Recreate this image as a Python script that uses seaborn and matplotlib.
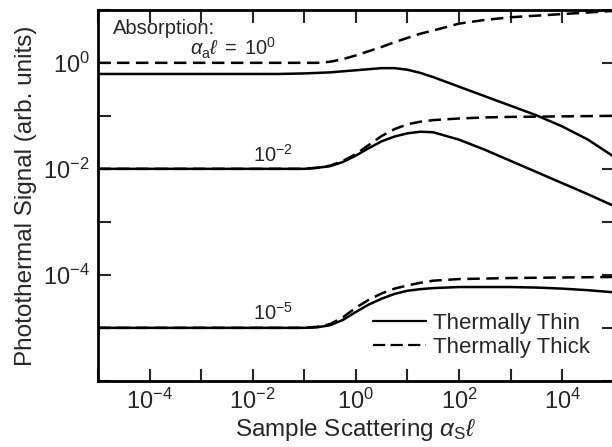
import matplotlib
matplotlib.use("Agg")
import matplotlib.pyplot as plt
import numpy as np
import pandas as pd
import seaborn as sns
from matplotlib.lines import Line2D

# ==========================================================
# Data  (log10 values)
# ==========================================================

scatter_exp = [-5, -1.5, -1, -0.75, -0.5, -0.25, 0, 0.25, 0.5, 0.75,
               1, 1.25, 1.5, 2, 2.5, 3, 3.5, 4, 4.5, 5]

thick_a0 = [0, 0, 0, 0.0, 0.02, 0.07, 0.14, 0.22, 0.30, 0.39,
            0.47, 0.55, 0.61, 0.74, 0.81, 0.86, 0.89, 0.92, 0.95, 0.98]
thin_a0 = [-0.21, -0.21, -0.20, -0.19, -0.18, -0.16, -0.14, -0.12, -0.10, -0.10,
           -0.13, -0.19, -0.27, -0.45, -0.63, -0.81, -0.99, -1.20, -1.45, -1.77]

thick_a2 = [-2, -2, -2, -1.98, -1.94, -1.85, -1.72, -1.55, -1.38, -1.25,
            -1.16, -1.11, -1.08, -1.05, -1.03, -1.02, -1.015, -1.01, -1.005, -1.0]
thin_a2 = [-2, -2, -2, -1.98, -1.95, -1.87, -1.75, -1.61, -1.48, -1.39,
           -1.33, -1.30, -1.31, -1.45, -1.64, -1.85, -2.06, -2.27, -2.48, -2.70]

thick_a5 = [-5, -5, -5, -4.98, -4.93, -4.80, -4.62, -4.47, -4.35, -4.26,
            -4.20, -4.15, -4.11, -4.08, -4.07, -4.06, -4.055, -4.05, -4.045, -4.04]
thin_a5 = [-5, -5, -5, -4.99, -4.95, -4.85, -4.70, -4.56, -4.45, -4.36,
           -4.30, -4.27, -4.25, -4.23, -4.23, -4.23, -4.24, -4.26, -4.29, -4.33]

x_tick_exp = list(range(-5, 6))
x_tick_labels = ["", r"$10^{-4}$", "", r"$10^{-2}$", "", r"$10^{0}$",
                 "", r"$10^{2}$", "", r"$10^{4}$", ""]
y_tick_exp = list(range(-6, 2))
y_tick_labels = ["", "", r"$10^{-4}$", "", r"$10^{-2}$", "", r"$10^{0}$", ""]

# ==========================================================
# Long table for seaborn
# ==========================================================

series = {
    ("1", "Thermally Thick"): thick_a0,
    ("1", "Thermally Thin"): thin_a0,
    ("1e-2", "Thermally Thick"): thick_a2,
    ("1e-2", "Thermally Thin"): thin_a2,
    ("1e-5", "Thermally Thick"): thick_a5,
    ("1e-5", "Thermally Thin"): thin_a5,
}
rows = []
for (absorb, regime), vals in series.items():
    for xe, ye in zip(scatter_exp, vals):
        rows.append({"x": 10.0 ** xe, "y": 10.0 ** ye,
                     "absorption": absorb, "regime": regime})
df = pd.DataFrame(rows)

# ==========================================================
# Plot
# ==========================================================

sns.set_style("ticks")
plt.rcParams["font.family"] = ["Liberation Sans", "DejaVu Sans"]
plt.rcParams["mathtext.fontset"] = "custom"
plt.rcParams["mathtext.rm"] = "Liberation Sans"
plt.rcParams["mathtext.it"] = "Liberation Sans:italic"
plt.rcParams["mathtext.bf"] = "Liberation Sans:bold"

fig = plt.figure(figsize=(6.12, 4.47), dpi=100)
ax = fig.add_axes([0.160, 0.148, 0.843, 0.830])

sns.lineplot(
    data=df, x="x", y="y",
    units="absorption", estimator=None,
    style="regime",
    dashes={"Thermally Thin": "", "Thermally Thick": (5, 2.6)},
    color="black", linewidth=1.8, legend=False, ax=ax,
)

ax.set_xscale("log")
ax.set_yscale("log")
ax.set_xlim(1e-5, 1e5)
ax.set_ylim(1e-6, 1e1)

ax.set_xticks([10.0 ** e for e in x_tick_exp])
ax.set_xticklabels(x_tick_labels)
ax.set_yticks([10.0 ** e for e in y_tick_exp])
ax.set_yticklabels(y_tick_labels)
ax.minorticks_off()
ax.tick_params(which="major", direction="in", length=9, width=1.5,
               top=True, right=True, labelsize=17, pad=6)

for sp in ax.spines.values():
    sp.set_linewidth(2)
    sp.set_color("black")

ax.set_xlabel(r"Sample Scattering $\alpha_{\mathrm{S}}\ell$", fontsize=17.5, labelpad=2)
ax.set_ylabel("Photothermal Signal (arb. units)", fontsize=17.5, labelpad=4)

# annotations
ax.text(0.029, 0.934, "Absorption:", transform=ax.transAxes, fontsize=14.5)
ax.text(0.178, 0.877, r"$\alpha_{\mathrm{a}}\ell\;=\;10^{0}$",
        transform=ax.transAxes, fontsize=14.5)
ax.text(0.300, 0.590, r"$10^{-2}$", transform=ax.transAxes, fontsize=14.5)
ax.text(0.300, 0.164, r"$10^{-5}$", transform=ax.transAxes, fontsize=14.5)

handles = [
    Line2D([], [], color="black", linewidth=1.6, label="Thermally Thin"),
    Line2D([], [], color="black", linewidth=1.6, dashes=(5.5, 2.4),
           label="Thermally Thick"),
]
ax.legend(handles=handles, loc="lower right", bbox_to_anchor=(0.983, 0.02),
          frameon=False, fontsize=16, handlelength=2.4, handletextpad=0.3,
          labelspacing=0.12, borderpad=0.2)

fig.savefig("out.png", dpi=100)
